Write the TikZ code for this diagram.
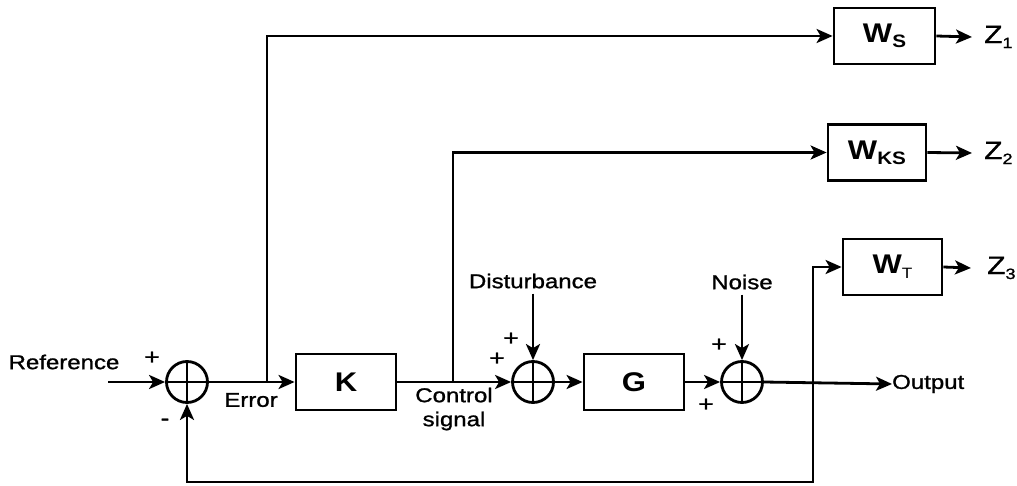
\documentclass[tikz,border=0pt]{standalone}
\usepackage{fontspec}
\setmainfont{Liberation Sans}[FakeStretch=1.2,FakeBold=1.2]
\newfontfamily\boxfont{Liberation Sans}[FakeStretch=1.15]
\usetikzlibrary{arrows.meta}
\newcommand{\mysub}[2]{{\fontsize{#1}{#1}\selectfont\raisebox{-5pt}{#2}}}
\tikzset{
  blk/.style={draw, line width=2.8pt, minimum width=100pt, minimum height=56pt, inner sep=0pt,
    font=\boxfont\bfseries\fontsize{27}{27}\selectfont},
  sumc/.style={draw, circle, line width=2.8pt, minimum size=41pt, inner sep=0pt,
    path picture={\draw[line width=2.8pt] (path picture bounding box.north) -- (path picture bounding box.south)
      (path picture bounding box.west) -- (path picture bounding box.east);}},
  lbl/.style={font=\fontsize{20}{24}\selectfont, inner sep=0pt},
  zl/.style={font=\fontsize{25}{25}\selectfont, inner sep=0pt, anchor=west},
  sgn/.style={font=\fontsize{22}{22}\selectfont, inner sep=0pt},
  arr/.style={line width=2.8pt, -{Stealth[length=16pt,width=14pt,inset=4pt]}}
}
\begin{document}
\begin{tikzpicture}[x=1pt,y=-1pt]
\useasboundingbox (0,0) rectangle (1017,486);
% summing junctions
\node[sumc] (s1) at (187,382) {};
\node[sumc] (s2) at (533,382) {};
\node[sumc] (s3) at (742,382) {};
% blocks
\node[blk, minimum width=100pt] (K) at (346,382) {K};
\node[blk] (G) at (634,382) {G};
\node[blk, minimum width=101pt] (WS) at (884.5,36) {W\mysub{18}{S}};
\node[blk, minimum width=98pt] (WKS) at (877,152.5) {W\mysub{18}{KS}};
\node[blk, minimum width=99pt] (WT) at (892.5,267) {W{\mdseries\mysub{15}{T}}};
% labels
\node[lbl] (ref) at (64,362) {Reference};
\node[lbl] (err) at (251,400) {Error};
\node[lbl, align=center] (ctl) at (454,409) {Control\\signal};
\node[lbl] (dist) at (533,281) {Disturbance};
\node[lbl] (noise) at (742,282) {Noise};
\node[lbl, anchor=west] (out) at (892,384) {Output};
\node[sgn] (p1) at (152,358) {+};
\node[sgn] (m1) at (165,422) {-};
\node[sgn] (p2) at (511,339) {+};
\node[sgn] (p3) at (497,359) {+};
\node[sgn] (p4) at (719,345) {+};
\node[sgn] (p5) at (706,405) {+};
\node[zl] (z1) at (984,37) {Z\mysub{15}{1}};
\node[zl] (z2) at (984,153) {Z\mysub{15}{2}};
\node[zl] (z3) at (987,268) {Z\mysub{15}{3}};
% junction coordinates
\coordinate (refin) at (108,382);
\coordinate (e1) at (267,382);
\coordinate (c1) at (453,382);
\coordinate (j) at (813,382);
\coordinate (fb) at (813,482);
% main path
\draw[arr] (refin) -- (s1.west);
\draw[arr] (s1.east) -- (K.west);
\draw[arr] (K.east) -- (s2.west);
\draw[arr] (s2.east) -- (G.west);
\draw[arr] (G.east) -- (s3.west);
\draw[arr] (s3.east) -- (out.west);
% inputs
\draw[arr] ([yshift=-5pt]dist.south) -- (s2.north);
\draw[arr] ([yshift=-5pt]noise.south) -- (s3.north);
% branches to weights
\draw[arr] (e1) |- (WS.west);
\draw[arr] (c1) |- (WKS.west);
\draw[arr] (j) |- (WT.west);
% feedback
\draw[arr] (j) -- (fb) -| (s1.south);
% weight outputs
\draw[arr] (WS.east) -- ([xshift=-12pt]z1.west);
\draw[arr] (WKS.east) -- ([xshift=-12pt]z2.west);
\draw[arr] (WT.east) -- ([xshift=-16pt]z3.west);
\end{tikzpicture}
\end{document}
